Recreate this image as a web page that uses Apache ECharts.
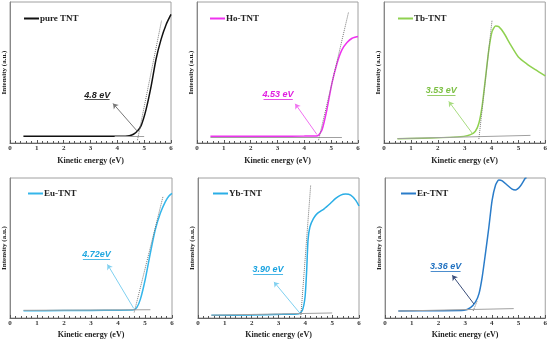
<!DOCTYPE html>
<html><head><meta charset="utf-8">
<script src="https://cdn.jsdelivr.net/npm/echarts@6/dist/echarts.min.js"></script>
<style>html,body{margin:0;padding:0;background:#fff}#c{width:550px;height:341px}</style>
</head><body><div id="c"></div>
<script>
// ---- data ----
const names = ['pure TNT','Ho-TNT','Tb-TNT','Eu-TNT','Yb-TNT','Er-TNT'];
const colors = ['#111111','#ee33ee','#8fd150','#35b6ea','#2aaee6','#2a7cc9'];
const labelColors = ['#222222','#e020e0','#7cc043','#22a8e0','#1aa3e0','#1e70c0'];
const arrowColors = ['#777777','#f070f0','#a8dc80','#7fd0f0','#7fd0f0','#3a4e7a'];
const xTicks = [0,1,2,3,4,5,6];

const xPure = [0.5,1,2,3,4,4.3,4.45,4.6,4.75,4.89,5.07,5.26,5.44,5.63,5.82,6];
const yPure = [4.7,4.7,4.7,4.7,4.7,4.8,5.2,6.2,8.5,12.5,23.7,40.3,59.2,73.5,84.1,91.2];
const xHo = [0.5,1,2,3,4,4.5,4.66,4.84,5.03,5.22,5.4,5.59,5.78,6];
const yHo = [4.7,4.7,4.7,4.8,4.9,5.2,9.4,23.6,42.5,56.6,66,71.2,74.3,75.5];
const xTb = [0.5,1.73,2.97,3.22,3.4,3.53,3.65,3.77,3.9,4.02,4.15,4.27,4.46,4.7,5.0,5.32,5.63,6];
const yTb = [3.1,3.5,4.7,5.9,8.3,14,26,45,66,79,83,82.5,78,70,61,56,52,47.6];
const xEu = [0.5,2,3,4,4.58,4.7,4.83,5.01,5.2,5.38,5.57,5.75,5.88,6];
const yEu = [5.2,5.3,5.4,5.6,5.9,7.6,13.5,27.7,46.6,63,75,83,87,89];
const xYb = [0.5,2,3.14,3.76,3.89,3.99,4.05,4.1,4.17,4.3,4.45,4.7,4.94,5.13,5.32,5.5,5.69,5.88,6];
const yYb = [1.9,2.2,2.6,3.1,5.5,15,34,55.6,65,71,74.7,78,82,85.4,87.8,88.5,87.8,84,80];
const xEr = [0.5,2,2.96,3.2,3.39,3.52,3.64,3.76,3.89,4.01,4.14,4.26,4.39,4.57,4.76,4.88,5.07,5.25,5.3];
const yEr = [5,5.2,5.5,7.4,11.5,17.4,29.4,46,65,84,95,98.6,98,95,92,91.4,94.3,99.8,100];

const gapText = ['4.8 eV','4.53 eV','3.53 eV','4.72eV','3.90 eV','3.36 eV'];
const labelPos = [[3.25,34],[3.02,34.2],[2.13,36.9],[3.2,45.5],[2.61,34.5],[2.27,36.9]];
const underline = [[2.78,3.71,30.8],[2.48,3.57,31],[1.61,2.66,33.7],[2.7,3.71,42.3],[2.06,3.17,31.3],[1.71,2.83,33.7]];
const tangents = [[[4.75,2],[5.65,87]],[[4.53,2],[5.65,93]],[[3.53,2.8],[4.02,87]],[[4.6,4],[5.67,87]],[[3.83,0.7],[4.2,95]],[[3.3,5],[3.45,12]]];
const baselines = [[[3.9,4.5],[5.0,4.5]],[[0.5,4.2],[5.4,4.2]],[[0.5,3.1],[5.45,5.4]],[[0.5,5.5],[5.2,5.9]],[[0.5,2],[5.0,3.6]],[[0.5,5],[4.82,6.7]]];
const arrows = [[[4.76,8],[3.84,28]],[[4.47,6],[3.66,27.8]],[[3.28,7],[2.41,29.5]],[[4.58,6.9],[3.61,38.3]],[[3.79,3.6],[2.83,25.8]],[[3.33,10],[2.52,30.5]]];

const xs = [xPure,xHo,xTb,xEu,xYb,xEr];
const ys = [yPure,yHo,yTb,yEu,yYb,yEr];

// ---- layout ----
const grids = [
  {left:10,top:2,width:161,height:141},
  {left:197,top:2,width:161,height:141},
  {left:384,top:2,width:162,height:141},
  {left:10,top:178,width:162,height:140},
  {left:198,top:178,width:161,height:140},
  {left:385,top:178,width:162,height:140}
];
const legendPos = [[24,14],[210,14],[398,14],[28,189],[213,189],[401,189]];

const serif = 'Liberation Serif';
const option = {animation:false, grid:[], xAxis:[], yAxis:[], series:[], legend:[]};
for (let i=0;i<6;i++){
  option.grid.push(Object.assign({show:true,borderColor:'#a0a0a0',borderWidth:1,containLabel:false}, grids[i]));
  option.xAxis.push({gridIndex:i,type:'value',min:0,max:6,interval:1,
    name:'Kinetic energy (eV)',nameLocation:'middle',nameGap:i<3?14:13,
    nameTextStyle:{fontFamily:serif,fontWeight:'bold',fontSize:8,color:'#222'},
    axisLine:{show:true,lineStyle:{color:'#666',width:1}},
    axisTick:{show:true,inside:true,length:3,lineStyle:{color:'#555'}},
    minorTick:{show:true,splitNumber:5,length:2,lineStyle:{color:'#555'}},
    axisLabel:{fontFamily:serif,fontWeight:'bold',fontSize:7,color:'#333',margin:2,
      formatter:v=>xTicks.includes(v)?String(v):''},
    splitLine:{show:false}});
  option.yAxis.push({gridIndex:i,type:'value',min:0,max:100,
    name:'Intensity (a.u.)',nameLocation:'middle',nameGap:2,
    nameTextStyle:{fontFamily:serif,fontWeight:'bold',fontSize:7,color:'#222'},
    axisLine:{show:true,lineStyle:{color:'#888'}},axisTick:{show:false},axisLabel:{show:false},splitLine:{show:false}});
  option.legend.push({data:[names[i]],left:legendPos[i][0],top:legendPos[i][1],
    icon:'rect',itemWidth:15,itemHeight:2,padding:0,
    textStyle:{fontFamily:serif,fontWeight:'bold',fontSize:9,color:'#222',padding:[0,0,0,-4]}});
  const data = xs[i].map((x,k)=>[x,ys[i][k]]);
  const t = tangents[i], b = baselines[i], a = arrows[i], u = underline[i];
  option.series.push({
    name:names[i],type:'line',xAxisIndex:i,yAxisIndex:i,data:data,smooth:0.2,
    showSymbol:false,symbol:'none',lineStyle:{color:colors[i],width:1.5},itemStyle:{color:colors[i]},z:3,
    markLine:{silent:true,animation:false,label:{show:false},symbol:['none','none'],
      data:[
        [{coord:b[0],lineStyle:{color:'#a0a0a0',width:1,type:'solid'}},{coord:b[1]}],
        [{coord:t[0],lineStyle:{color:'#777',width:1,type:'dotted'}},{coord:t[1]}],
        [{coord:a[0],symbol:'none',lineStyle:{color:arrowColors[i],width:1,type:'solid'}},{coord:a[1],symbol:'arrow',symbolSize:5}],
        [{coord:[u[0],u[2]],lineStyle:{color:labelColors[i],width:0.8,type:'solid'}},{coord:[u[1],u[2]]}]
      ]},
    markPoint:{silent:true,animation:false,symbol:'circle',symbolSize:0,
      data:[{coord:labelPos[i],label:{show:true,position:'inside',formatter:gapText[i],
        fontFamily:'Liberation Sans',fontWeight:'bold',fontStyle:'italic',fontSize:9,color:labelColors[i]}}]}
  });
}
const chart = echarts.init(document.getElementById('c'),null,{renderer:'canvas'});
chart.setOption(option);
</script></body></html>
